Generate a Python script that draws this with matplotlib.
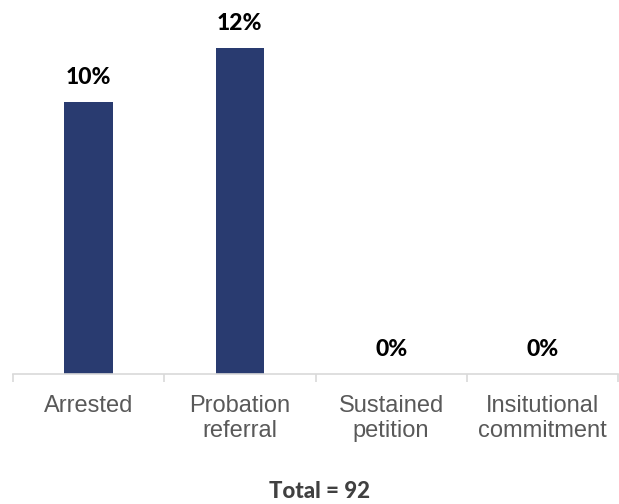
import matplotlib
matplotlib.use("Agg")
import matplotlib.pyplot as plt
import numpy as np

categories = ["Arrested", "Probation\nreferral", "Sustained\npetition", "Insitutional\ncommitment"]
values = [10, 12, 0, 0]
value_labels = ["10%", "12%", "0%", "0%"]
total_label = "Total = 92"

W, H = 619, 504
fig = plt.figure(figsize=(W / 100, H / 100), dpi=100)
ax_left, ax_right = 13 / W, 618 / W
ax_bottom = (H - 374) / H
ax_top = 1.0
ax = fig.add_axes([ax_left, ax_bottom, ax_right - ax_left, ax_top - ax_bottom])

x = np.arange(len(categories))
ax.bar(x, values, width=0.32, color="#293B70", zorder=2)
ax.set_xlim(-0.5, len(categories) - 0.5)
ax.set_ylim(0, 374 / 27.2)

for xi, v, lab in zip(x, values, value_labels):
    ax.annotate(lab, (xi, v), xytext=(0, 10), textcoords="offset points",
                ha="center", va="bottom", fontsize=16.5, fontweight="black",
                family=["Lato", "DejaVu Sans"], color="#000000")

for s in ["top", "right", "left"]:
    ax.spines[s].set_visible(False)
ax.spines["bottom"].set_color("#D9D9D9")
ax.spines["bottom"].set_linewidth(1.2)
ax.set_yticks([])

ax.set_xticks(x)
ax.set_xticklabels(categories, fontsize=17, color="#595959",
                   family=["Liberation Sans", "DejaVu Sans"], linespacing=1.2)
ax.tick_params(axis="x", which="major", length=0, pad=15)
ax.set_xticks(np.arange(-0.5, len(categories)), minor=True)
ax.tick_params(axis="x", which="minor", length=6, width=1.2, color="#D9D9D9")

fig.text(320 / W, 1 - 491 / H, total_label, ha="center", va="center",
         fontsize=16, fontweight="black", color="#404040",
         family=["Lato", "DejaVu Sans"])

fig.savefig("out.png", dpi=100, facecolor="white")
